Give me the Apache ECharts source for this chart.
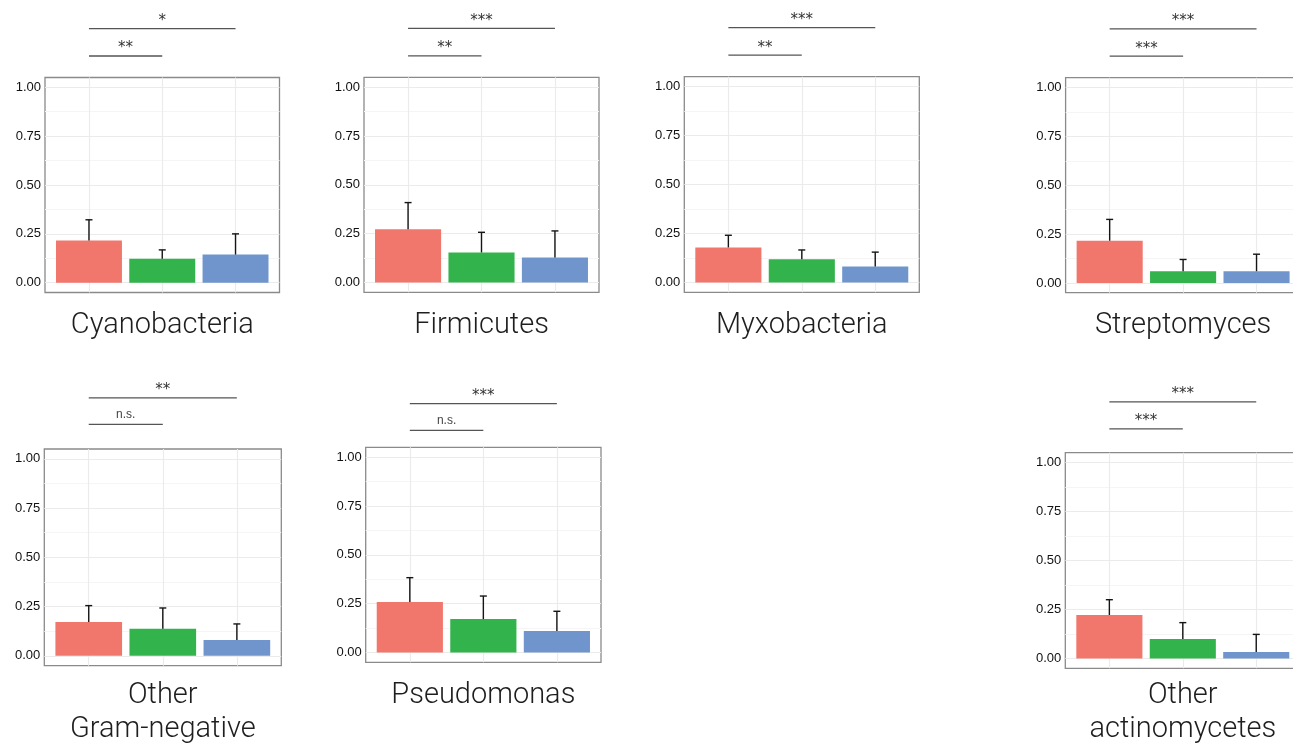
<!DOCTYPE html>
<html>
<head>
<meta charset="utf-8">
<script src="https://cdn.jsdelivr.net/npm/echarts@6/dist/echarts.min.js"></script>
<style>
html,body{margin:0;padding:0;background:#fff;overflow:hidden;}
#chart{width:1320px;height:743px;}
</style>
</head>
<body>
<div id="chart"></div>
<script>
// ---- data ----
const panelNames = ['Cyanobacteria', 'Firmicutes', 'Myxobacteria', 'Streptomyces', 'Other\nGram-negative', 'Pseudomonas', 'Other\nactinomycetes'];
const groupPositions = [1, 2, 3];
const meanRed   = [0.216, 0.272, 0.179, 0.216, 0.172, 0.258, 0.222];
const upperRed  = [0.322, 0.409, 0.241, 0.325, 0.255, 0.383, 0.300];
const meanGreen = [0.123, 0.154, 0.118, 0.060, 0.138, 0.171, 0.099];
const upperGreen= [0.168, 0.257, 0.166, 0.120, 0.243, 0.289, 0.183];
const meanBlue  = [0.144, 0.128, 0.082, 0.060, 0.080, 0.110, 0.033];
const upperBlue = [0.250, 0.264, 0.155, 0.147, 0.162, 0.211, 0.123];
const sigOuter  = ['*', '***', '***', '***', '**', '***', '***'];   // group 1 vs 3
const sigInner  = ['**', '**', '**', '***', 'n.s.', 'n.s.', '***']; // group 1 vs 2
const yTickValues = [0, 0.25, 0.5, 0.75, 1];
const yMinorValues = [0.125, 0.375, 0.625, 0.875];

// ---- layout / style ----
const layout = [
  {left: 45,     top: 77.5,  width: 234.5, height: 215,   outerY: 1.30, innerY: 1.16},
  {left: 364,    top: 77.3,  width: 235,   height: 215,   outerY: 1.30, innerY: 1.16},
  {left: 684.3,  top: 76.7,  width: 235,   height: 215.6, outerY: 1.30, innerY: 1.16},
  {left: 1065.6, top: 77.7,  width: 235,   height: 215,   outerY: 1.30, innerY: 1.16},
  {left: 44.3,   top: 449,   width: 237,   height: 216.7, outerY: 1.31, innerY: 1.175},
  {left: 365.7,  top: 447.3, width: 235.3, height: 215,   outerY: 1.273, innerY: 1.137},
  {left: 1065.3, top: 452.7, width: 235,   height: 215.6, outerY: 1.309, innerY: 1.172}
];
const colors = ['#f1766c', '#32b34b', '#7095cd'];
const titleTop = [309, 309, 309, 309, 679, 679, 679];

const grids = [], xAxes = [], yAxes = [], series = [], titles = [];
layout.forEach((g, i) => {
  grids.push({left: g.left, top: g.top, width: g.width, height: g.height, show: true,
    borderColor: '#8a8a8a', borderWidth: 1.3, backgroundColor: '#fff', containLabel: false});
  xAxes.push({gridIndex: i, type: 'value', min: 0.4, max: 3.6,
    axisLine: {show: false}, axisLabel: {show: false},
    axisTick: {show: false, customValues: groupPositions},
    splitLine: {show: true, lineStyle: {color: '#ebebeb', width: 1.1}}});
  yAxes.push({gridIndex: i, type: 'value', min: -0.05, max: 1.05,
    axisLine: {show: false},
    axisTick: {show: false, customValues: yTickValues},
    axisLabel: {show: true, customValues: yTickValues, margin: 4, color: '#111', fontSize: 13,
      fontFamily: 'Liberation Sans, Arial, sans-serif', formatter: v => v.toFixed(2)},
    splitLine: {show: true, lineStyle: {color: '#ebebeb', width: 1.1}}});
  yAxes.push({gridIndex: i, type: 'value', min: -0.05, max: 1.05,
    axisLine: {show: false}, axisLabel: {show: false},
    axisTick: {show: false, customValues: yMinorValues},
    splitLine: {show: true, lineStyle: {color: '#f5f5f5', width: 1}}});

  const means = [meanRed[i], meanGreen[i], meanBlue[i]];
  const uppers = [upperRed[i], upperGreen[i], upperBlue[i]];
  const unitPx = g.width / 3.2;
  series.push({type: 'bar', xAxisIndex: i, yAxisIndex: i * 2, barWidth: unitPx * 0.9,
    data: groupPositions.map((x, k) => ({value: [x, means[k]], itemStyle: {color: colors[k]}})),
    z: 2, silent: true});
  series.push({type: 'custom', xAxisIndex: i, yAxisIndex: i * 2, z: 3, silent: true,
    data: groupPositions.map((x, k) => [x, means[k], uppers[k]]),
    renderItem: (params, api) => {
      const p0 = api.coord([api.value(0), api.value(1)]);
      const p1 = api.coord([api.value(0), api.value(2)]);
      return {type: 'group', children: [
        {type: 'line', shape: {x1: p0[0], y1: p0[1], x2: p1[0], y2: p1[1]}, style: {stroke: '#151515', lineWidth: 1.4}},
        {type: 'line', shape: {x1: p1[0] - 3.5, y1: p1[1], x2: p1[0] + 3.5, y2: p1[1]}, style: {stroke: '#151515', lineWidth: 1.4}}
      ]};
    }});
  // significance brackets
  const brackets = [[1, 3, g.outerY, sigOuter[i]], [1, 2, g.innerY, sigInner[i]]];
  series.push({type: 'custom', xAxisIndex: i, yAxisIndex: i * 2, z: 3, silent: true, clip: false,
    data: brackets.map(b => [b[0], b[1], b[2]]),
    renderItem: (params, api) => {
      const a = api.coord([api.value(0), api.value(2)]);
      const b = api.coord([api.value(1), api.value(2)]);
      const label = brackets[params.dataIndex][3];
      const ns = label === 'n.s.';
      return {type: 'group', children: [
        {type: 'line', shape: {x1: a[0], y1: a[1], x2: b[0], y2: b[1]}, style: {stroke: '#555', lineWidth: 1.3}},
        {type: 'text', x: (a[0] + b[0]) / 2, y: a[1] - (ns ? 4 : 0),
          style: {text: label, align: 'center', verticalAlign: 'bottom',
            fontSize: ns ? 12 : 15, fontFamily: ns ? 'Liberation Sans, Arial, sans-serif' : 'DejaVu Sans, sans-serif',
            fill: ns ? '#444' : '#333'}}
      ]};
    }});
  titles.push({text: panelNames[i], left: g.left + g.width / 2, top: titleTop[i], textAlign: 'center',
    padding: 0,
    textStyle: {fontSize: 29, fontWeight: 300, color: '#1e1e1e', fontFamily: 'Roboto, Lato, sans-serif', lineHeight: 34}});
});

const chart = echarts.init(document.getElementById('chart'), null, {renderer: 'canvas'});
chart.setOption({animation: false, backgroundColor: '#fff', title: titles, grid: grids,
  xAxis: xAxes, yAxis: yAxes, series: series});
</script>
</body>
</html>
